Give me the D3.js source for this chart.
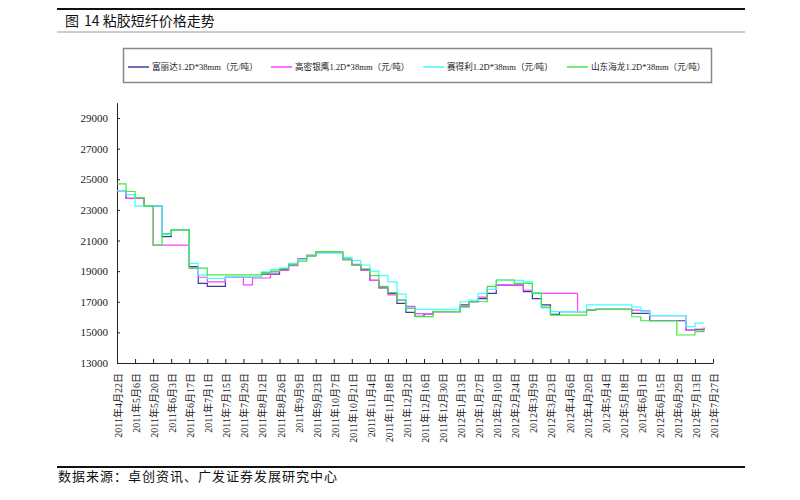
<!DOCTYPE html>
<html><head><meta charset="utf-8">
<script src="https://cdn.jsdelivr.net/npm/d3@7"></script>
<style>
html,body{margin:0;padding:0;background:#fff;}
svg{display:block;}
</style></head>
<body>
<svg id="chart" width="800" height="500"></svg>
<script>
const titleLabel = "图";
const titleText = "14 粘胶短纤价格走势";
const source = "数据来源：卓创资讯、广发证券发展研究中心";
const seriesNames = ["富丽达1.2D*38mm（元/吨）","高密银鹰1.2D*38mm（元/吨）","赛得利1.2D*38mm（元/吨）","山东海龙1.2D*38mm（元/吨）"];
const seriesColors = ["#3c3c9c","#ff40ff","#40ffff","#40e840"];
const firstWeek = "2011-04-22";
const tickDates = ["2011-04-22","2011-05-06","2011-05-20","2011-06-03","2011-06-17","2011-07-01","2011-07-15","2011-07-29","2011-08-12","2011-08-26","2011-09-09","2011-09-23","2011-10-07","2011-10-21","2011-11-04","2011-11-18","2011-12-02","2011-12-16","2011-12-30","2012-01-13","2012-01-27","2012-02-10","2012-02-24","2012-03-09","2012-03-23","2012-04-06","2012-04-20","2012-05-04","2012-05-18","2012-06-01","2012-06-15","2012-06-29","2012-07-13","2012-07-27"];
const yTicks = [13000,15000,17000,19000,21000,23000,25000,27000,29000];

const fuLiDa = [24250,23750,23750,23250,23250,21250,21700,21700,19300,18200,
 18000,18000,18600,18600,18600,18600,18800,18800,19100,19400,
 19800,20000,20200,20200,20200,19750,19400,19100,18400,17900,
 17550,16900,16300,16050,16200,16350,16350,16350,16800,17000,
 17200,17550,18090,18090,18090,17660,17200,16800,16180,16350,
 16350,16350,16450,16500,16500,16500,16500,16240,16240,15760,
 15760,15760,15760,15155,15200,15300];
const gaoMi = [24250,23750,23750,23250,20700,20700,20700,20700,19200,18600,
 18300,18300,18600,18600,18100,18550,18550,18950,19050,19350,
 19800,20050,20250,20250,20250,19800,19450,19050,18400,17950,
 17450,17100,16700,16230,16200,16350,16350,16350,16700,17000,
 17300,17800,18090,18090,18090,17750,17550,17550,17550,17550,
 17550,16350,16450,16500,16500,16500,16500,16450,16400,16100,
 16100,16100,16100,15155,15155,15300];
const saiDeLi = [24250,24000,23250,23250,23250,21400,21700,21700,19500,18750,
 18530,18530,18600,18600,18600,18600,18960,19100,19200,19500,
 19750,20000,20200,20200,20200,19900,19700,19400,19000,18700,
 18300,17500,16600,16500,16500,16500,16500,16500,17000,17100,
 17550,17800,18420,18420,18400,18300,17600,16600,16350,16350,
 16350,16350,16800,16800,16800,16800,16800,16650,16350,16100,
 16100,16100,16100,15370,15600,15600];
const haiLong = [24700,24200,23800,23250,20700,21450,21700,21700,19200,19200,
 18750,18750,18750,18750,18750,18750,18900,19000,19150,19450,
 19650,20000,20270,20270,20270,19750,19400,19150,18700,18000,
 17600,17100,16570,16030,16030,16350,16350,16350,16650,17000,
 17000,18000,18420,18420,18200,18200,17550,16650,16130,16130,
 16130,16130,16450,16500,16500,16500,16500,16020,15760,15760,
 15760,15760,14830,14830,15045,15300];

const allSeries = [fuLiDa, gaoMi, saiDeLi, haiLong];
const parse = d3.timeParse("%Y-%m-%d");
const start = parse(firstWeek);
const weekDates = fuLiDa.map((_, i) => d3.timeDay.offset(start, 7 * i));

const svg = d3.select("#chart");
const serif = "'Liberation Serif','Noto Sans CJK SC',serif";
const sans = "'Noto Sans CJK SC','Noto Sans',sans-serif";

// header
svg.append("line").attr("x1",57).attr("x2",745).attr("y1",9).attr("y2",9).attr("stroke","#111").attr("stroke-width",2);
svg.append("line").attr("x1",57).attr("x2",745).attr("y1",32).attr("y2",32).attr("stroke","#999").attr("stroke-width",1.2);
const tt = svg.append("text").attr("y",26).attr("font-family",sans).attr("font-size",14).attr("fill","#111");
tt.append("tspan").attr("x",65).text(titleLabel);
tt.append("tspan").attr("x",84).text(titleText);

// footer
svg.append("line").attr("x1",57).attr("x2",745).attr("y1",467).attr("y2",467).attr("stroke","#111").attr("stroke-width",2);
svg.append("text").attr("x",58).attr("y",481).attr("font-family",sans).attr("font-size",13).attr("letter-spacing",1).attr("fill","#111").text(source);

// scales
const x = d3.scaleTime().domain([parse(tickDates[0]), parse(tickDates[tickDates.length-1])]).range([117, 713]);
const y = d3.scaleLinear().domain([13000, 30000]).range([363, 102.7]);

// y axis
const gy = svg.append("g").attr("transform","translate(117,0)")
  .call(d3.axisLeft(y).tickValues(yTicks).tickSizeInner(-3).tickSizeOuter(0).tickPadding(9).tickFormat(d3.format("d")));
gy.select(".domain").attr("stroke","#222");
gy.selectAll(".tick line").attr("stroke","#222");
gy.selectAll("text").attr("font-family",serif).attr("font-size",11).attr("fill","#222");

// x axis
const fmt = d => (d.getFullYear()) + "年" + (d.getMonth()+1) + "月" + d.getDate() + "日";
const gx = svg.append("g").attr("transform","translate(0,363)")
  .call(d3.axisBottom(x).tickValues(tickDates.map(parse)).tickSizeInner(-4).tickSizeOuter(0).tickFormat(fmt));
gx.select(".domain").attr("stroke","#222");
gx.selectAll(".tick line").attr("stroke","#222");
gx.selectAll("text").attr("font-family",serif).attr("font-size",10).attr("fill","#222")
  .attr("text-anchor","end").attr("x",0).attr("y",0).attr("dy","0.35em")
  .attr("transform","translate(1,10) rotate(-90)");

// lines
const line = d3.line().x((d,i)=>x(weekDates[i])).y(d=>y(d)).curve(d3.curveStepAfter);
allSeries.forEach((s, k) => {
  svg.append("path").datum(s).attr("d", line).attr("fill","none")
    .attr("stroke", seriesColors[k]).attr("stroke-width",1.2);
});

// legend
svg.append("rect").attr("x",123.5).attr("y",48.5).attr("width",588).attr("height",34)
  .attr("fill","#fff").attr("stroke","#888").attr("stroke-width",1.5);
const legX = [128, 271, 423, 567];
seriesNames.forEach((n,k) => {
  svg.append("line").attr("x1",legX[k]).attr("x2",legX[k]+21).attr("y1",67).attr("y2",67)
    .attr("stroke",seriesColors[k]).attr("stroke-width",1.5);
  svg.append("text").attr("x",legX[k]+24).attr("y",70).attr("font-family",serif).attr("font-size",8.6).attr("fill","#222").text(n);
});
</script>
</body></html>
